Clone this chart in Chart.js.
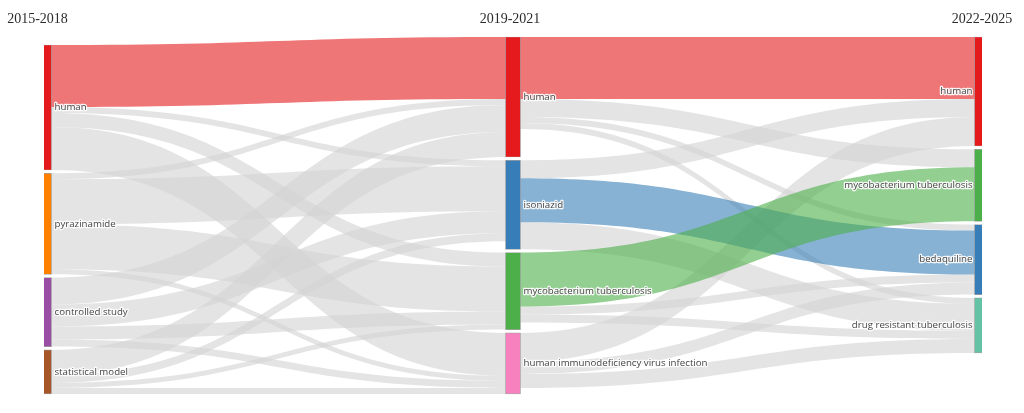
<!DOCTYPE html>
<html>
<head>
<meta charset="utf-8">
<script src="https://cdn.jsdelivr.net/npm/chart.js@4/dist/chart.umd.min.js"></script>
<style>
  html, body { margin: 0; padding: 0; background: #ffffff; }
  #wrap { width: 1024px; height: 413px; position: relative; }
</style>
</head>
<body>
<div id="wrap"><canvas id="c"></canvas></div>
<script>
// ---------------- DATA ----------------
const periods = ['2015-2018', '2019-2021', '2022-2025'];

const nodeLabels = [
  'human', 'pyrazinamide', 'controlled study', 'statistical model',
  'human', 'isoniazid', 'mycobacterium tuberculosis', 'human immunodeficiency virus infection',
  'human', 'mycobacterium tuberculosis', 'bedaquiline', 'drug resistant tuberculosis'
];
const nodePeriod = [0, 0, 0, 0, 1, 1, 1, 1, 2, 2, 2, 2];

const linkSource = [0, 0, 0, 0, 1, 1, 1, 1, 2, 2, 2, 2, 3, 3, 3, 3,
                    4, 4, 4, 4, 5, 5, 5, 6, 6, 6, 7, 7, 7];
const linkTarget = [4, 5, 6, 7, 4, 5, 6, 7, 4, 5, 6, 7, 4, 5, 6, 7,
                    8, 9, 10, 11, 8, 10, 11, 9, 10, 11, 8, 10, 11];
const linkValue  = [62, 6, 14, 43, 6, 45, 45, 5, 27, 22, 13, 7, 25, 8, 5, 6,
                    62, 18, 6, 6, 18, 44, 27, 54, 8, 8, 29, 12, 14];

// ---------------- STYLE / LAYOUT ----------------
const NODE_COLORS = ['#e41a1c', '#ff7f00', '#984ea3', '#a65628',
                     '#e41a1c', '#377eb8', '#4daf4a', '#f781bf',
                     '#e41a1c', '#4daf4a', '#377eb8', '#66c2a5'];
const GREY_LINK = 'rgba(211,211,211,0.62)';
const COL_TOP = [45, 37, 37];
const NODE_GAP = 3.3;
const LABEL_FONT = '9.7px "Open Sans", Verdana, Arial, sans-serif';
const TITLE_FONT = '14px "Liberation Serif", "Times New Roman", serif';
const TITLE_X = [37.5, 510, 982];

function hexToRgba(hex, a) {
  const n = parseInt(hex.slice(1), 16);
  return 'rgba(' + ((n >> 16) & 255) + ',' + ((n >> 8) & 255) + ',' + (n & 255) + ',' + a + ')';
}

// node sizes & stacking (value units)
const nNodes = nodeLabels.length;
const inSum = new Array(nNodes).fill(0), outSum = new Array(nNodes).fill(0);
linkSource.forEach((s, i) => { outSum[s] += linkValue[i]; inSum[linkTarget[i]] += linkValue[i]; });
const nodeSize = inSum.map((v, i) => Math.max(v, outSum[i]));
const nodeY0 = [], nodeY1 = [];
const cursor = COL_TOP.slice();
for (let i = 0; i < nNodes; i++) {
  const c = nodePeriod[i];
  nodeY0[i] = cursor[c];
  nodeY1[i] = nodeY0[i] + nodeSize[i];
  cursor[c] = nodeY1[i] + NODE_GAP;
}

// link stacking (sorted like d3-sankey)
const links = linkSource.map((s, i) => ({ i, s, t: linkTarget[i], v: linkValue[i] }));
for (let n = 0; n < nNodes; n++) {
  let off = nodeY0[n];
  links.filter(l => l.s === n).sort((a, b) => nodeY0[a.t] - nodeY0[b.t])
    .forEach(l => { l.sy0 = off; off += l.v; l.sy1 = off; });
  off = nodeY0[n];
  links.filter(l => l.t === n).sort((a, b) => nodeY0[a.s] - nodeY0[b.s])
    .forEach(l => { l.ty0 = off; off += l.v; l.ty1 = off; });
}
links.forEach(l => {
  l.colored = NODE_COLORS[l.s] === NODE_COLORS[l.t];
  l.color = l.colored ? hexToRgba(NODE_COLORS[l.s], 0.6) : GREY_LINK;
});
const drawOrder = links.filter(l => !l.colored).concat(links.filter(l => l.colored));

// ---------------- PLUGIN ----------------
const sankeyPlugin = {
  id: 'sankeyLinks',
  beforeDatasetsDraw(chart) {
    const ctx = chart.ctx, ys = chart.scales.y;
    const bars = chart.getDatasetMeta(0).data;
    ctx.save();
    drawOrder.forEach(l => {
      const x0 = bars[l.s].x + bars[l.s].width / 2;
      const x1 = bars[l.t].x - bars[l.t].width / 2;
      const xm = (x0 + x1) / 2;
      const a0 = ys.getPixelForValue(l.sy0), a1 = ys.getPixelForValue(l.sy1);
      const b0 = ys.getPixelForValue(l.ty0), b1 = ys.getPixelForValue(l.ty1);
      ctx.fillStyle = l.color;
      ctx.beginPath();
      ctx.moveTo(x0, a0);
      ctx.bezierCurveTo(xm, a0, xm, b0, x1, b0);
      ctx.lineTo(x1, b1);
      ctx.bezierCurveTo(xm, b1, xm, a1, x0, a1);
      ctx.closePath();
      ctx.fill();
    });
    ctx.restore();
  },
  afterDatasetsDraw(chart) {
    const ctx = chart.ctx, ys = chart.scales.y;
    const bars = chart.getDatasetMeta(0).data;
    ctx.save();
    ctx.font = LABEL_FONT;
    ctx.textBaseline = 'middle';
    ctx.lineJoin = 'round';
    for (let i = 0; i < nNodes; i++) {
      const b = bars[i];
      const yc = (ys.getPixelForValue(nodeY0[i]) + ys.getPixelForValue(nodeY1[i])) / 2;
      let x;
      if (nodePeriod[i] === periods.length - 1) { ctx.textAlign = 'right'; x = b.x - b.width / 2 - 2; }
      else { ctx.textAlign = 'left'; x = b.x + b.width / 2 + 3; }
      ctx.strokeStyle = 'rgba(255,255,255,0.9)';
      ctx.lineWidth = 2.5;
      ctx.strokeText(nodeLabels[i], x, yc);
      ctx.fillStyle = '#444444';
      ctx.fillText(nodeLabels[i], x, yc);
    }
    ctx.font = TITLE_FONT;
    ctx.fillStyle = '#2b2b2b';
    ctx.textAlign = 'center';
    ctx.textBaseline = 'alphabetic';
    periods.forEach((p, c) => ctx.fillText(p, TITLE_X[c], 23));
    ctx.restore();
  }
};

// ---------------- CHART ----------------
new Chart(document.getElementById('c'), {
  type: 'bar',
  data: {
    datasets: [{
      data: nodeLabels.map((_, i) => ({ x: nodePeriod[i], y: [nodeY0[i], nodeY1[i]] })),
      backgroundColor: NODE_COLORS,
      borderColor: 'rgba(68,68,68,0.5)',
      borderWidth: 0.7,
      borderSkipped: false,
      barThickness: 15,
      grouped: false
    }]
  },
  options: {
    responsive: true,
    maintainAspectRatio: false,
    animation: false,
    events: [],
    layout: { padding: { left: 44, right: 42, top: 0, bottom: 0 } },
    plugins: { legend: { display: false }, tooltip: { enabled: false }, title: { display: false } },
    scales: {
      x: { type: 'linear', min: 0, max: 2, offset: false, display: false },
      y: { type: 'linear', min: 0, max: 413, reverse: true, display: false }
    }
  },
  plugins: [sankeyPlugin]
});
</script>
</body>
</html>
